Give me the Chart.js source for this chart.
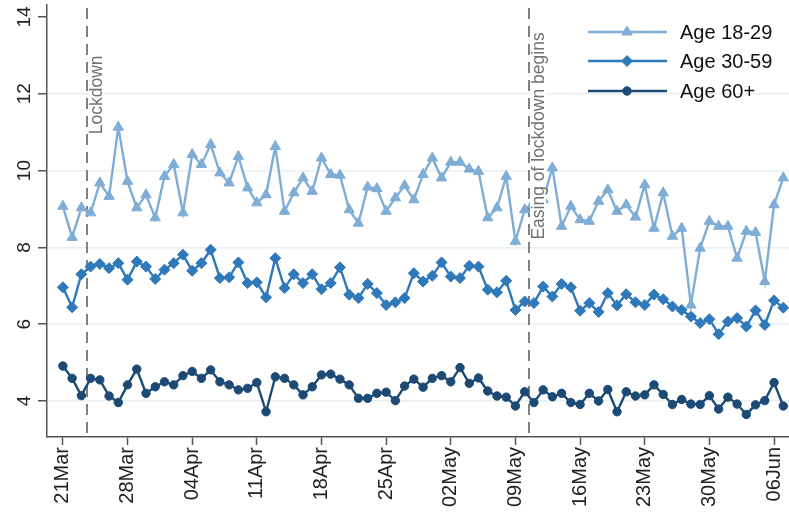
<!DOCTYPE html>
<html><head><meta charset="utf-8">
<script src="https://cdn.jsdelivr.net/npm/chart.js@4.4.1/dist/chart.umd.min.js"></script>
<style>html,body{margin:0;padding:0;background:#fff;overflow:hidden}#wrap{width:789px;height:515px;position:relative}</style>
</head><body><div id="wrap"><canvas id="c" width="789" height="515"></canvas></div>
<script>
const dates = ['21Mar','22Mar','23Mar','24Mar','25Mar','26Mar','27Mar','28Mar','29Mar','30Mar','31Mar',
'01Apr','02Apr','03Apr','04Apr','05Apr','06Apr','07Apr','08Apr','09Apr','10Apr','11Apr','12Apr','13Apr','14Apr','15Apr','16Apr','17Apr','18Apr','19Apr','20Apr','21Apr','22Apr','23Apr','24Apr','25Apr','26Apr','27Apr','28Apr','29Apr','30Apr',
'01May','02May','03May','04May','05May','06May','07May','08May','09May','10May','11May','12May','13May','14May','15May','16May','17May','18May','19May','20May','21May','22May','23May','24May','25May','26May','27May','28May','29May','30May','31May',
'01Jun','02Jun','03Jun','04Jun','05Jun','06Jun','07Jun'];
const tickLabels = ['21Mar','28Mar','04Apr','11Apr','18Apr','25Apr','02May','09May','16May','23May','30May','06Jun'];
const yTicks = [4,6,8,10,12,14];
const age18_29 = [9.07,8.26,9.03,8.90,9.68,9.33,11.13,9.72,9.03,9.37,8.77,9.85,10.16,8.90,10.42,10.16,10.68,9.94,9.68,
10.37,9.55,9.16,9.37,10.63,8.94,9.42,9.81,9.46,10.33,9.90,9.88,8.98,8.63,9.57,9.53,8.94,9.29,9.61,9.24,
9.90,10.33,9.81,10.22,10.22,10.04,9.98,8.77,9.03,9.85,8.16,8.98,9.20,9.24,10.07,8.55,9.07,8.72,8.68,9.20,
9.50,8.94,9.11,8.79,9.63,8.50,9.42,8.29,8.50,6.50,7.98,8.68,8.55,8.55,7.72,8.42,8.39,7.11,9.11,9.81];
const age30_59 = [6.96,6.44,7.30,7.50,7.57,7.46,7.59,7.16,7.63,7.50,7.18,7.42,7.59,7.81,7.39,7.59,7.94,7.20,7.22,
7.61,7.07,7.09,6.70,7.72,6.94,7.30,7.07,7.30,6.91,7.07,7.48,6.77,6.68,7.05,6.81,6.50,6.57,6.68,7.33,
7.11,7.26,7.61,7.24,7.20,7.52,7.50,6.90,6.83,7.13,6.37,6.59,6.55,6.98,6.72,7.05,6.96,6.35,6.55,6.32,
6.81,6.49,6.78,6.57,6.50,6.77,6.65,6.46,6.37,6.20,6.03,6.13,5.74,6.07,6.16,5.94,6.36,5.98,6.62,6.43];
const age60plus = [4.91,4.59,4.14,4.59,4.55,4.13,3.96,4.42,4.83,4.20,4.37,4.50,4.42,4.66,4.77,4.59,4.81,4.50,4.42,
4.29,4.33,4.48,3.72,4.63,4.59,4.42,4.16,4.37,4.68,4.70,4.57,4.42,4.07,4.07,4.20,4.23,4.01,4.39,4.57,
4.36,4.59,4.66,4.50,4.87,4.46,4.60,4.26,4.13,4.10,3.87,4.24,3.96,4.29,4.11,4.20,3.96,3.91,4.20,4.00,
4.30,3.72,4.24,4.13,4.16,4.42,4.17,3.91,4.04,3.92,3.91,4.14,3.79,4.10,3.92,3.65,3.90,4.01,4.48,3.87];
const seriesNames = ['Age 18-29','Age 30-59','Age 60+'];
const eventDays = [2.6, 50.45];
const eventLabels = ['Lockdown','Easing of lockdown begins'];
const eventTextTop = [13.0, 13.6];

const FONT = "'Liberation Sans', Arial, sans-serif";
const colors = ['#7FADD6','#2F78B9','#1C4A74'];
const styles = ['triangle','rectRot','circle'];
const radii = [6,5.5,4.2];
const toPts = arr => arr.map((v,i)=>({x:i,y:v}));

const overlay = {
  id:'overlay',
  beforeDatasetsDraw(chart){
    const {ctx, chartArea:a, scales:{x}} = chart;
    ctx.save();
    ctx.strokeStyle='#808080'; ctx.lineWidth=2; ctx.setLineDash([11,7]);
    eventDays.forEach(d=>{
      const px = Math.round(x.getPixelForValue(d));
      ctx.beginPath(); ctx.moveTo(px, a.top+3); ctx.lineTo(px, a.bottom); ctx.stroke();
    });
    ctx.restore();
  },
  afterDatasetsDraw(chart){
    const {ctx, scales:{x,y}} = chart;
    ctx.save();
    ctx.font = '17.5px '+FONT;
    eventDays.forEach((d,i)=>{
      const px = Math.round(x.getPixelForValue(d))+1;
      const py = y.getPixelForValue(eventTextTop[i]);
      ctx.save();
      ctx.translate(px, py); ctx.rotate(-Math.PI/2);
      const w = ctx.measureText(eventLabels[i]).width;
      ctx.fillStyle='#fff'; ctx.fillRect(-w-1, 0, w+2, 16);
      ctx.fillStyle='#707070'; ctx.textAlign='right'; ctx.textBaseline='top';
      ctx.fillText(eventLabels[i], 0, 0);
      ctx.restore();
    });
    ctx.restore();
  },
  afterDraw(chart){
    const {ctx, scales:{y}} = chart;
    ctx.save();
    ctx.font = '19px '+FONT; ctx.fillStyle='#222';
    yTicks.forEach(v=>{
      const py = y.getPixelForValue(v);
      ctx.save(); ctx.translate(25, py); ctx.rotate(-Math.PI/2);
      ctx.textAlign='center'; ctx.textBaseline='middle';
      ctx.fillText(String(v), 0, 0); ctx.restore();
    });
    // legend
    const rows = [32, 61, 91];
    chart.data.datasets.forEach((ds,i)=>{
      const yy = rows[i];
      ctx.strokeStyle = ds.borderColor; ctx.lineWidth = ds.borderWidth; ctx.setLineDash([]);
      ctx.beginPath(); ctx.moveTo(588, yy); ctx.lineTo(667, yy); ctx.stroke();
      ctx.fillStyle = ds.pointBackgroundColor; ctx.strokeStyle = ds.pointBorderColor; ctx.lineWidth=1;
      Chart.helpers.drawPoint(ctx, {pointStyle: ds.pointStyle, radius: ds.pointRadius, rotation:0, borderWidth:1}, 627, yy);
      ctx.fillStyle='#111'; ctx.font='20px '+FONT; ctx.textAlign='left'; ctx.textBaseline='middle';
      ctx.fillText(ds.label, 680, yy+1);
    });
    ctx.restore();
  }
};

const seriesData = [age18_29, age30_59, age60plus];
new Chart(document.getElementById('c'), {
  type:'line',
  data:{ datasets: seriesData.map((arr,i)=>({
    label: seriesNames[i], data: toPts(arr),
    borderColor: colors[i], backgroundColor: colors[i],
    pointBackgroundColor: colors[i], pointBorderColor: colors[i],
    pointStyle: styles[i], pointRadius: radii[i], pointBorderWidth:1,
    borderWidth: 2.4, tension:0, fill:false, clip:false
  }))},
  options:{
    responsive:false, animation:false, devicePixelRatio:1,
    layout:{autoPadding:false, padding:{top:5,right:0,left:0,bottom:0}},
    plugins:{legend:{display:false}, tooltip:{enabled:false}, title:{display:false}},
    scales:{
      x:{type:'linear', position:'bottom', min:-1.72, max:78.62,
        afterFit:s=>{s.height=78; s.paddingRight=0; s.paddingLeft=0;},
        ticks:{stepSize:7, includeBounds:false, autoSkip:false, minRotation:90, maxRotation:90,
          font:{size:20, family:FONT}, color:'#222', padding:2,
          callback:v=>tickLabels[Math.round(v/7)] ?? ''},
        grid:{drawOnChartArea:false, drawTicks:true, tickLength:8, tickColor:'#555', tickWidth:1.5},
        border:{display:true, color:'#555', width:1.5}},
      y:{type:'linear', min:3.0625, max:14.3125,
        afterFit:s=>{s.width=47; s.paddingTop=0; s.paddingBottom=0;},
        ticks:{stepSize:2, includeBounds:false, display:false},
        grid:{color:c=>c.tick && c.tick.value===14 ? 'rgba(0,0,0,0)' : '#E9F0F3', lineWidth:1.5,
          drawTicks:true, tickLength:9, tickColor:'#555', tickWidth:1.5},
        border:{display:true, color:'#555', width:1.5}}
    }
  },
  plugins:[overlay]
});
</script></body></html>
